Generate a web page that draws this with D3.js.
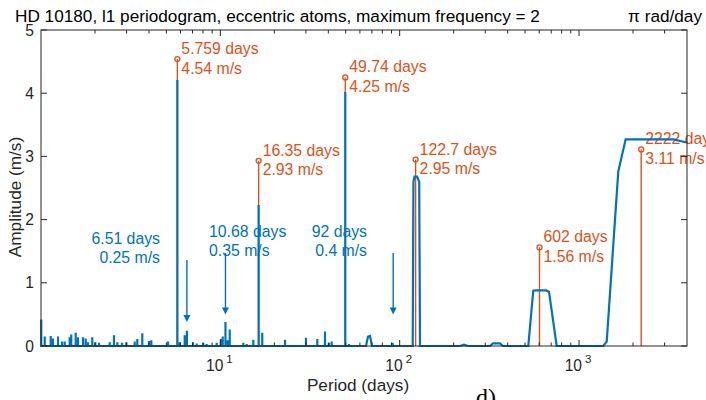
<!DOCTYPE html>
<html>
<head>
<meta charset="utf-8">
<script src="https://cdn.jsdelivr.net/npm/d3@7"></script>
<style>
  html, body { margin: 0; padding: 0; background: #fff; }
  svg { display: block; font-family: "Liberation Sans", Arial, Helvetica, sans-serif; }
</style>
</head>
<body>
<svg id="chart" width="706" height="400"></svg>
<script>
// ---------------- DATA ----------------
const titleLeft = "HD 10180, l1 periodogram, eccentric atoms, maximum frequency = 2";
const titleRight = "\u03C0 rad/day";
const xLabel = "Period (days)";
const yLabel = "Amplitude (m/s)";
const panelLabel = "d)";

const xDomain = [1, 4000];
const yDomain = [0, 5];
const yTicks = [0, 1, 2, 3, 4, 5];
const xMajorTicks = [10, 100, 1000];
const xMajorExponents = ["1", "2", "3"];

// narrow spikes of the periodogram (period in days, amplitude in m/s)
const spikePeriods = [1.003, 1.049, 1.133, 1.166, 1.244, 1.310, 1.356, 1.445, 1.475, 1.561,
  1.608, 1.715, 1.775, 1.828, 1.932, 2.008, 2.106, 2.416, 2.553, 2.664,
  2.829, 2.990, 3.330, 3.443, 3.671, 4.001, 4.121, 5.108, 5.759, 5.934,
  6.327, 6.51, 7.04, 7.38, 8.03, 8.39, 9.54, 10.08, 10.31, 10.68,
  10.99, 11.28, 13.43, 14.03, 15.27, 16.35, 17.13, 22.94, 30.03, 34.73,
  38.33, 40.35, 41.78, 49.74, 52.17, 91.4];
const spikeAmps = [0.42, 0.15, 0.16, 0.12, 0.15, 0.07, 0.07, 0.14, 0.18, 0.21,
  0.14, 0.14, 0.12, 0.06, 0.14, 0.06, 0.05, 0.06, 0.17, 0.06,
  0.05, 0.06, 0.07, 0.11, 0.20, 0.08, 0.09, 0.07, 4.21, 0.06,
  0.17, 0.24, 0.06, 0.04, 0.05, 0.03, 0.05, 0.11, 0.15, 0.38,
  0.09, 0.26, 0.05, 0.03, 0.10, 2.23, 0.21, 0.10, 0.13, 0.11,
  0.23, 0.05, 0.07, 4.02, 0.03, 0.05];

// broader features (long periods are sparsely sampled)
const hump67Periods = [64.9, 66.6, 68.3, 70.1];
const hump67Amps = [0, 0.15, 0.16, 0];
const peak123Periods = [118.2, 119.3, 121.0, 125.0, 128.5, 129.8];
const peak123Amps = [0, 2.60, 2.68, 2.68, 2.60, 0];
const bump220Periods = [216.9, 228.3, 240.4];
const bump220Amps = [0, 0.02, 0];
const bump340Periods = [318.8, 331.2, 362.5, 376.7];
const bump340Amps = [0, 0.04, 0.04, 0];
const plateau602Periods = [521.3, 555.7, 575.4, 654.3, 680.1, 750.6];
const plateau602Amps = [0, 0.875, 0.88, 0.88, 0.86, 0];
const ramp2222Periods = [1365, 1427, 1655, 1820, 3354, 4000];
const ramp2222Amps = [0, 0.07, 2.76, 3.27, 3.27, 3.22];

// identified signals (orange stems)
const sigPeriods = [5.759, 16.35, 49.74, 122.7, 602, 2222];
const sigAmps = [4.54, 2.93, 4.25, 2.95, 1.56, 3.11];
const sigDayLabels = ["5.759 days", "16.35 days", "49.74 days", "122.7 days", "602 days", "2222 days"];
const sigAmpLabels = ["4.54 m/s", "2.93 m/s", "4.25 m/s", "2.95 m/s", "1.56 m/s", "3.11 m/s"];

// blue annotated candidate signals
const candPeriods = [6.51, 10.68, 92];
const candDayLabels = ["6.51 days", "10.68 days", "92 days"];
const candAmpLabels = ["0.25 m/s", "0.35 m/s", "0.4 m/s"];
const candArrowTop = [1.36, 1.47, 1.47];
const candArrowTip = [0.38, 0.50, 0.50];
const candAnchor = ["end", "start", "end"];

// ---------------- DRAW ----------------
const blue = "#0072BD", orange = "#D95319", axisCol = "#262626";
const svg = d3.select("#chart");
const pLeft = 41, pRight = 687, pTop = 30, pBottom = 346;
const annFont = 15.8, tickFont = 15.6, labelFont = 17.2, titleFont = 17.2;

const x = d3.scaleLog().domain(xDomain).range([pLeft, pRight]);
const y = d3.scaleLinear().domain(yDomain).range([pBottom, pTop]);

// title
svg.append("text").attr("x", 15).attr("y", 22).attr("font-size", titleFont).attr("fill", "#000").text(titleLeft);
svg.append("text").attr("x", 702).attr("y", 22).attr("font-size", titleFont).attr("fill", "#000")
  .attr("text-anchor", "end").text(titleRight);

// orange stems
const sig = sigPeriods.map((p, i) => ({p, a: sigAmps[i], d: sigDayLabels[i], m: sigAmpLabels[i]}));
svg.append("g").selectAll("line").data(sig).join("line")
  .attr("x1", d => x(d.p)).attr("x2", d => x(d.p))
  .attr("y1", y(0)).attr("y2", d => y(d.a))
  .attr("stroke", orange).attr("stroke-width", 1.4);
svg.append("g").selectAll("circle").data(sig).join("circle")
  .attr("cx", d => x(d.p)).attr("cy", d => y(d.a)).attr("r", 2.5)
  .attr("fill", "none").attr("stroke", orange).attr("stroke-width", 1.3);
const sigText = svg.append("g").attr("font-size", annFont).attr("fill", orange);
sig.forEach(d => {
  sigText.append("text").attr("x", x(d.p) + 4).attr("y", y(d.a) - 5).text(d.d);
  sigText.append("text").attr("x", x(d.p) + 4).attr("y", y(d.a) + 14.5).text(d.m);
});

// blue periodogram line
const events = [];
spikePeriods.forEach((p, i) => events.push([[p, 0], [p, spikeAmps[i]], [p, 0]]));
[[hump67Periods, hump67Amps], [peak123Periods, peak123Amps], [bump220Periods, bump220Amps],
 [bump340Periods, bump340Amps], [plateau602Periods, plateau602Amps], [ramp2222Periods, ramp2222Amps]]
  .forEach(([ps, as]) => events.push(ps.map((p, i) => [p, as[i]])));
events.sort((a, b) => a[0][0] - b[0][0]);
const pts = [[xDomain[0], 0]].concat(...events);
const line = d3.line().x(d => x(d[0])).y(d => y(d[1]));
svg.append("path").attr("d", line(pts)).attr("fill", "none")
  .attr("stroke", blue).attr("stroke-width", 2.2).attr("stroke-linejoin", "miter");

// blue candidate annotations
const cand = svg.append("g").attr("font-size", annFont).attr("fill", blue);
const textX = [160, 209, 367];
const textY1 = [244, 237, 237];
candPeriods.forEach((p, i) => {
  cand.append("text").attr("x", textX[i]).attr("y", textY1[i]).attr("text-anchor", candAnchor[i]).text(candDayLabels[i]);
  cand.append("text").attr("x", textX[i]).attr("y", textY1[i] + 19).attr("text-anchor", candAnchor[i]).text(candAmpLabels[i]);
  const xc = x(p);
  cand.append("line").attr("x1", xc).attr("x2", xc).attr("y1", y(candArrowTop[i])).attr("y2", y(candArrowTip[i]) - 4)
    .attr("stroke", blue).attr("stroke-width", 1.4);
  cand.append("path").attr("d", `M${xc - 3.5},${y(candArrowTip[i]) - 7} L${xc + 3.5},${y(candArrowTip[i]) - 7} L${xc},${y(candArrowTip[i])} Z`)
    .attr("fill", blue);
});

// axes box
const ax = svg.append("g").attr("stroke", axisCol).attr("stroke-width", 1);
ax.append("rect").attr("x", pLeft).attr("y", pTop).attr("width", pRight - pLeft).attr("height", pBottom - pTop).attr("fill", "none");

// y ticks
yTicks.forEach(t => {
  ax.append("line").attr("x1", pLeft).attr("x2", pLeft + 6).attr("y1", y(t)).attr("y2", y(t));
  ax.append("line").attr("x1", pRight).attr("x2", pRight - 6).attr("y1", y(t)).attr("y2", y(t));
});
svg.append("g").attr("font-size", tickFont).attr("fill", axisCol).selectAll("text").data(yTicks).join("text")
  .attr("x", 34).attr("y", d => y(d) + 5.6).attr("text-anchor", "end").text(d => d);

// x ticks (major + minor)
const minorTicks = [];
for (let dec = 1; dec <= 1000; dec *= 10) for (let k = 2; k <= 9; k++) {
  const v = k * dec; if (v < xDomain[1]) minorTicks.push(v);
}
minorTicks.forEach(t => {
  ax.append("line").attr("x1", x(t)).attr("x2", x(t)).attr("y1", pBottom).attr("y2", pBottom - 3.5);
  ax.append("line").attr("x1", x(t)).attr("x2", x(t)).attr("y1", pTop).attr("y2", pTop + 3.5);
});
xMajorTicks.forEach(t => {
  ax.append("line").attr("x1", x(t)).attr("x2", x(t)).attr("y1", pBottom).attr("y2", pBottom - 6);
  ax.append("line").attr("x1", x(t)).attr("x2", x(t)).attr("y1", pTop).attr("y2", pTop + 6);
});
const xl = svg.append("g").attr("fill", axisCol);
xMajorTicks.forEach((t, i) => {
  const tx = xl.append("text").attr("x", x(t) - 1).attr("y", 371).attr("text-anchor", "middle").attr("font-size", tickFont);
  tx.append("tspan").text("10");
  tx.append("tspan").attr("dx", 3).attr("dy", -8).attr("font-size", 11.5).text(xMajorExponents[i]);
});

// axis labels
svg.append("text").attr("x", 358).attr("y", 391).attr("text-anchor", "middle").attr("font-size", labelFont).attr("fill", axisCol).text(xLabel);
svg.append("text").attr("transform", "translate(21,197) rotate(-90)").attr("text-anchor", "middle")
  .attr("font-size", labelFont).attr("fill", axisCol).text(yLabel);

// panel label
svg.append("text").attr("x", 476).attr("y", 405).attr("font-family", "'Liberation Serif', 'Times New Roman', serif")
  .attr("font-size", 24).attr("fill", "#000").text(panelLabel);
</script>
</body>
</html>
